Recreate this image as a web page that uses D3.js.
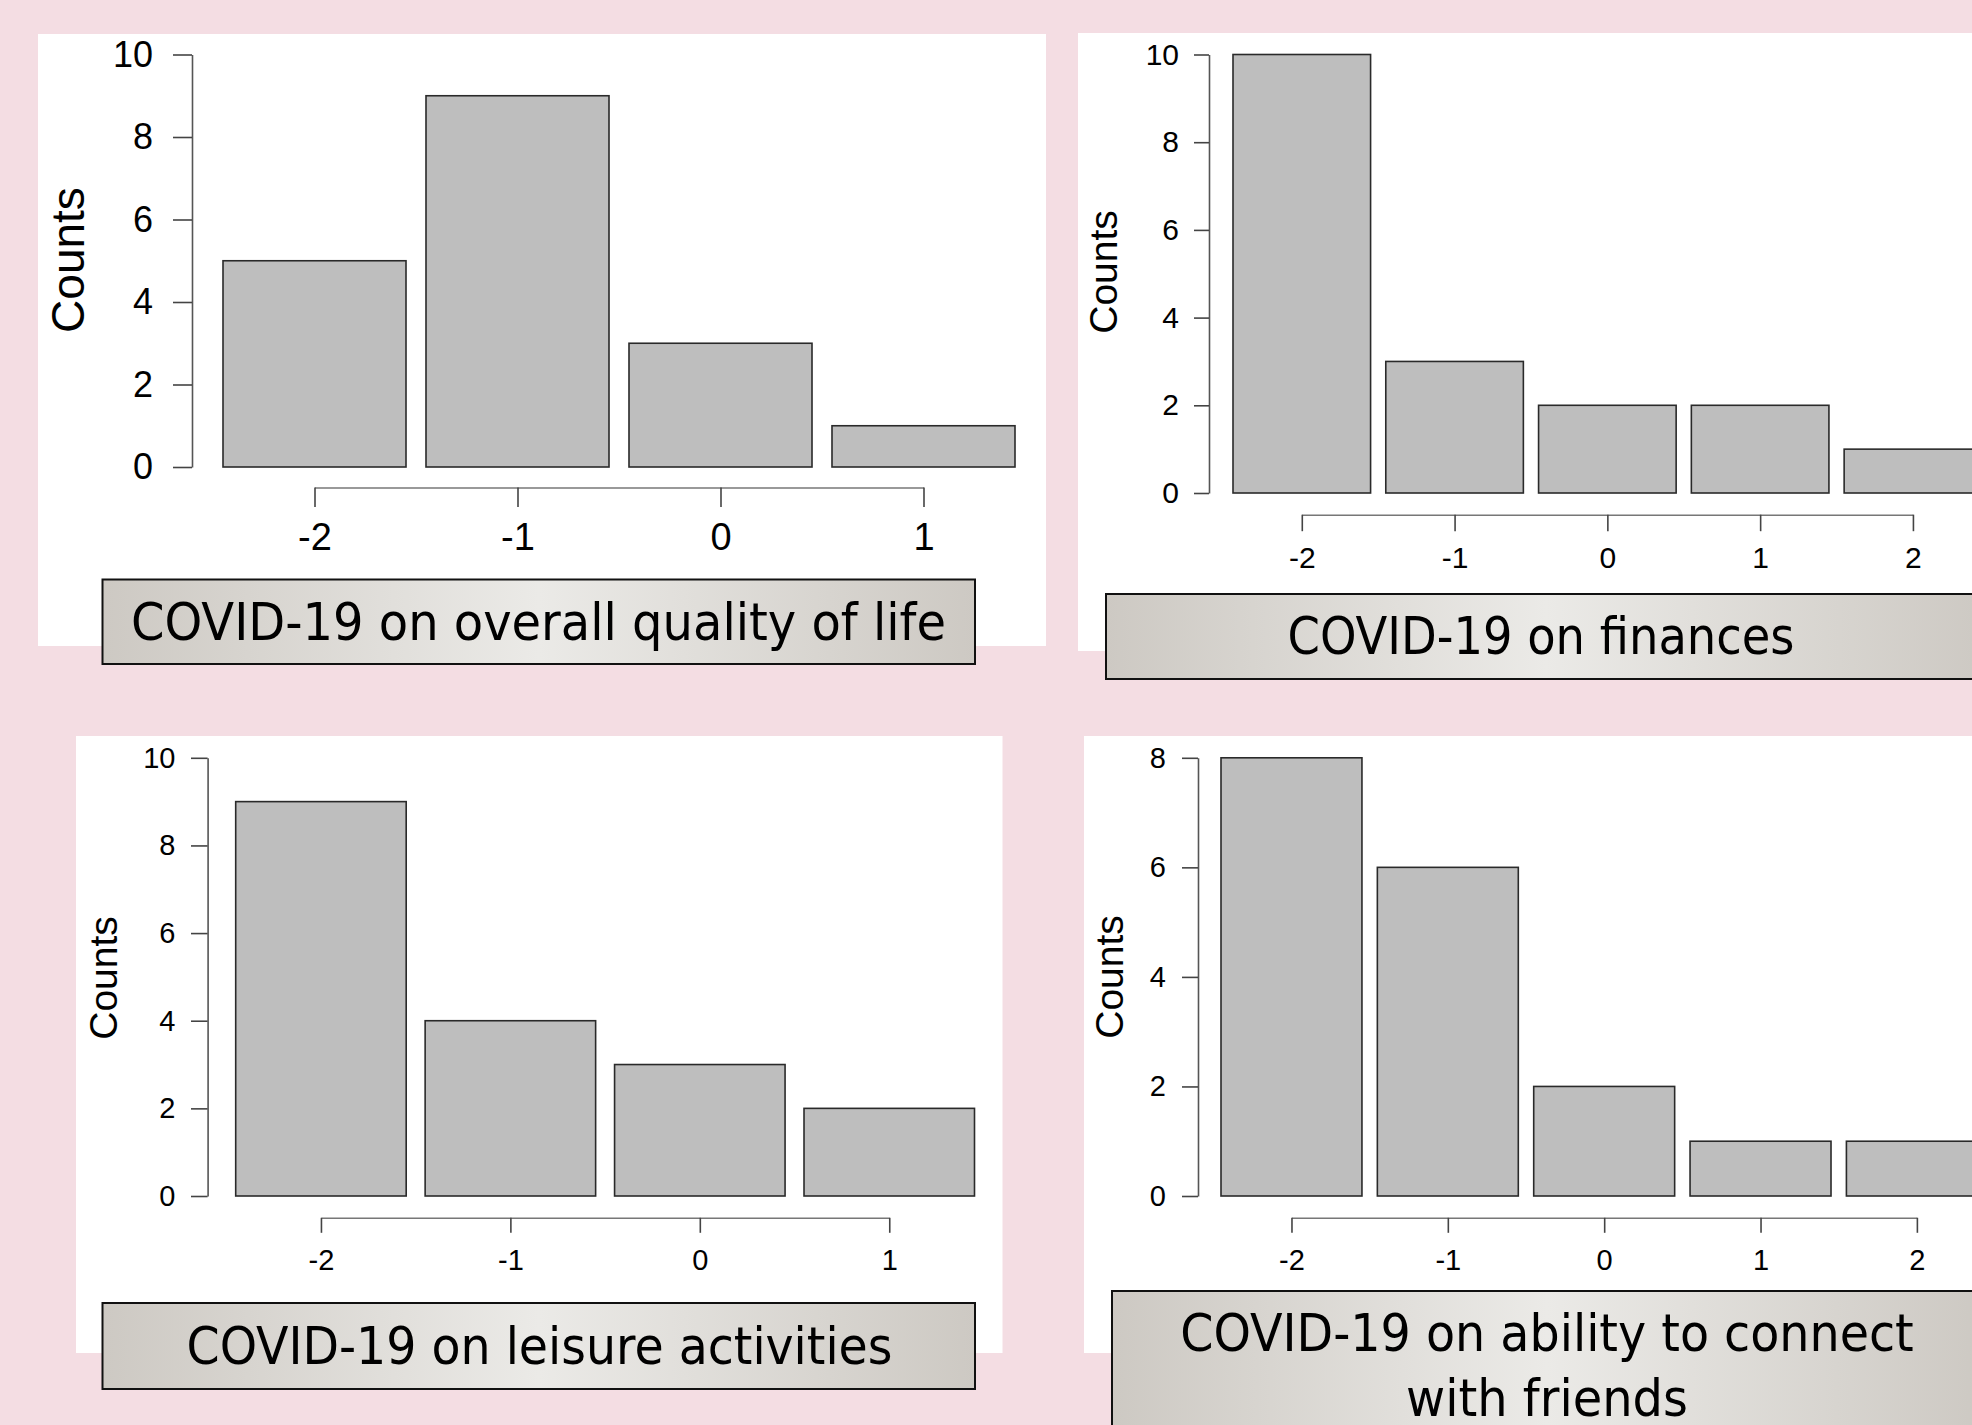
<!DOCTYPE html>
<html>
<head>
<meta charset="utf-8">
<script src="https://cdn.jsdelivr.net/npm/d3@7"></script>
<style>
  html, body { margin: 0; padding: 0; background: #f4dde3; }
  svg { display: block; }
</style>
</head>
<body>
<svg id="chart" width="1972" height="1425"></svg>
<script>
// ---- data ----
const categoriesLife = [-2, -1, 0, 1];
const countsLife = [5, 9, 3, 1];
const ticksLife = [0, 2, 4, 6, 8, 10];
const titleLife = ["COVID-19 on overall quality of life"];

const categoriesFinances = [-2, -1, 0, 1, 2];
const countsFinances = [10, 3, 2, 2, 1];
const ticksFinances = [0, 2, 4, 6, 8, 10];
const titleFinances = ["COVID-19 on finances"];

const categoriesLeisure = [-2, -1, 0, 1];
const countsLeisure = [9, 4, 3, 2];
const ticksLeisure = [0, 2, 4, 6, 8, 10];
const titleLeisure = ["COVID-19 on leisure activities"];

const categoriesFriends = [-2, -1, 0, 1, 2];
const countsFriends = [8, 6, 2, 1, 1];
const ticksFriends = [0, 2, 4, 6, 8];
const titleFriends = ["COVID-19 on ability to connect", "with friends"];

const yLabel = "Counts";

// ---- layout ----
const panels = [
  { cats: categoriesLife, vals: countsLife, ticks: ticksLife, title: titleLife,
    bg: [38, 34, 1008, 612], axisX: 192, y0: 467, yTop: 54.5, yMax: 10,
    barL: 223, barR: 1015, pad: 0.0985, xAxisY: 487.5, xTick: 19.5, xPad: 16, yTick: 19, yPad: 20,
    tickFont: 36, xFont: 38, lab: [84, 260, 46],
    box: [102.5, 579.5, 872.5, 84.5], tx: 538.5, tb: [640], tw: [815], tf: 51 },
  { cats: categoriesFinances, vals: countsFinances, ticks: ticksFinances, title: titleFinances,
    bg: [1078, 33, 900, 618], axisX: 1209, y0: 493, yTop: 54.5, yMax: 10,
    barL: 1233, barR: 1233 + 152.8 * 4.9, pad: 0.0995, xAxisY: 514.7, xTick: 16.5, xPad: 16, yTick: 15, yPad: 15,
    tickFont: 30, xFont: 30, lab: [1117, 272, 39],
    box: [1106, 594, 880, 85], tx: 1541, tb: [654], tw: [507], tf: 51 },
  { cats: categoriesLeisure, vals: countsLeisure, ticks: ticksLeisure, title: titleLeisure,
    bg: [76, 736, 926.5, 617], axisX: 207.6, y0: 1196, yTop: 757.8, yMax: 10,
    barL: 235.7, barR: 974.5, pad: 0.1, xAxisY: 1217.8, xTick: 15, xPad: 17, yTick: 16.6, yPad: 15.5,
    tickFont: 29, xFont: 29, lab: [117, 978, 39],
    box: [102.5, 1303, 872.5, 86], tx: 539.5, tb: [1363.5], tw: [706], tf: 51 },
  { cats: categoriesFriends, vals: countsFriends, ticks: ticksFriends, title: titleFriends,
    bg: [1084, 736, 900, 617], axisX: 1198, y0: 1196, yTop: 757.8, yMax: 8,
    barL: 1221, barR: 1221 + 156.4 * 4.9, pad: 0.0985, xAxisY: 1217.8, xTick: 15, xPad: 17, yTick: 16, yPad: 16,
    tickFont: 29, xFont: 29, lab: [1123, 977, 39],
    box: [1112, 1291, 870, 150], tx: 1547, tb: [1351, 1416], tw: [733.5, 282], tf: 51 }
];

const fmt = d => String(d);

const svg = d3.select("#chart");
const defs = svg.append("defs");
const grad = defs.append("linearGradient").attr("id", "boxGrad")
  .attr("x1", "0%").attr("x2", "100%").attr("y1", "0%").attr("y2", "0%");
grad.append("stop").attr("offset", "0%").attr("stop-color", "#cdc9c3");
grad.append("stop").attr("offset", "50%").attr("stop-color", "#ebeae7");
grad.append("stop").attr("offset", "100%").attr("stop-color", "#cdc9c3");

svg.append("rect").attr("width", 1972).attr("height", 1425).attr("fill", "#f4dde3");

panels.forEach(p => {
  const g = svg.append("g");
  g.append("rect").attr("x", p.bg[0]).attr("y", p.bg[1]).attr("width", p.bg[2]).attr("height", p.bg[3])
    .attr("fill", "#ffffff");

  const x = d3.scaleBand().domain(p.cats).range([p.barL, p.barR]).paddingInner(p.pad).paddingOuter(0);
  const y = d3.scaleLinear().domain([0, p.yMax]).range([p.y0, p.yTop]);
  const xp = d3.scalePoint().domain(p.cats)
    .range([x(p.cats[0]) + x.bandwidth() / 2, x(p.cats[p.cats.length - 1]) + x.bandwidth() / 2]);

  // bars
  g.selectAll("rect.bar").data(p.cats.map((c, i) => ({ c, v: p.vals[i] }))).enter()
    .append("rect").attr("class", "bar")
    .attr("x", d => x(d.c)).attr("width", x.bandwidth())
    .attr("y", d => y(d.v)).attr("height", d => y(0) - y(d.v))
    .attr("fill", "#bebebe").attr("stroke", "#2a2a2a").attr("stroke-width", 1.6);

  // y axis
  const ya = g.append("g").attr("transform", `translate(${p.axisX},0)`)
    .call(d3.axisLeft(y).tickValues(p.ticks).tickSize(p.yTick).tickSizeOuter(0).tickPadding(p.yPad).tickFormat(fmt));
  ya.select(".domain").attr("stroke", "#555").attr("stroke-width", 1.6);
  ya.selectAll(".tick line").attr("stroke", "#444").attr("stroke-width", 1.6);
  ya.selectAll(".tick text").attr("font-family", "'Liberation Sans', Arial, sans-serif")
    .attr("font-size", p.tickFont).attr("fill", "#000");

  // x axis
  const xa = g.append("g").attr("transform", `translate(0,${p.xAxisY})`)
    .call(d3.axisBottom(xp).tickSize(p.xTick).tickSizeOuter(0).tickPadding(p.xPad).tickFormat(fmt));
  xa.select(".domain").attr("stroke", "#777").attr("stroke-width", 1.6);
  xa.selectAll(".tick line").attr("stroke", "#444").attr("stroke-width", 1.6);
  xa.selectAll(".tick text").attr("font-family", "'Liberation Sans', Arial, sans-serif")
    .attr("font-size", p.xFont).attr("fill", "#000");

  // y label
  g.append("text").attr("transform", `translate(${p.lab[0]},${p.lab[1]}) rotate(-90)`)
    .attr("text-anchor", "middle").attr("font-family", "'Liberation Sans', Arial, sans-serif")
    .attr("font-size", p.lab[2]).attr("fill", "#000").text(yLabel);

  // title box
  g.append("rect").attr("x", p.box[0]).attr("y", p.box[1]).attr("width", p.box[2]).attr("height", p.box[3])
    .attr("fill", "url(#boxGrad)").attr("stroke", "#111").attr("stroke-width", 2);
  p.title.forEach((t, i) => {
    g.append("text").attr("x", p.tx).attr("y", p.tb[i]).attr("text-anchor", "middle")
      .attr("font-family", "'DejaVu Sans Condensed', 'DejaVu Sans', sans-serif")
      .style("font-stretch", "condensed")
      .attr("font-size", p.tf).attr("fill", "#000")
      .attr("textLength", p.tw[i]).attr("lengthAdjust", "spacingAndGlyphs")
      .text(t);
  });
});
</script>
</body>
</html>
